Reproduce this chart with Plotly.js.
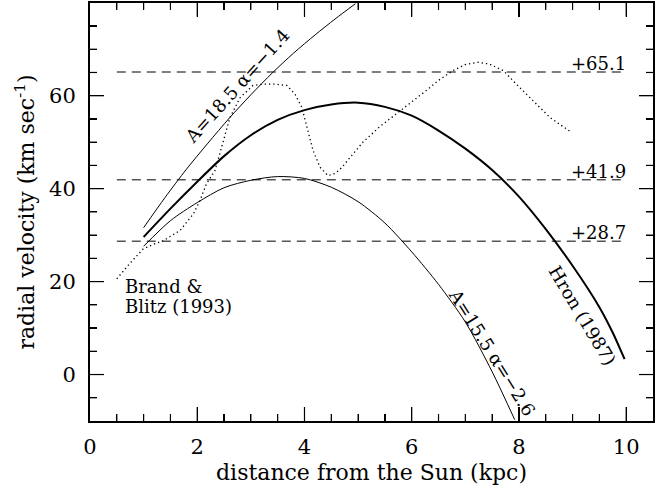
<!DOCTYPE html>
<html>
<head>
<meta charset="utf-8">
<script src="https://cdn.plot.ly/plotly-3.0.1.min.js"></script>
<style>html,body{margin:0;padding:0;background:#fff;}#chart{width:670px;height:488px;}</style>
</head>
<body>
<div id="chart"></div>
<script>
// Hron (1987) curve (thick)
const hronX = [1.0, 1.5, 2.0, 2.5, 3.0, 3.5, 4.0, 4.5, 5.0, 5.5, 6.0, 6.5, 7.0, 7.5, 8.0, 8.5, 9.0, 9.5, 9.75, 9.97];
const hronY = [29.6, 35.7, 41.5, 47.0, 51.5, 54.8, 56.9, 58.1, 58.5, 57.6, 55.7, 52.5, 48.6, 44.0, 38.3, 31.3, 23.4, 14.5, 9.0, 3.3];
// A=18.5 alpha=-1.4 model (upper thin)
const upperX = [1.0, 1.4, 1.8, 2.2, 2.6, 3.0, 3.4, 3.8, 4.2, 4.57, 4.95];
const upperY = [31.6, 38.1, 44.2, 49.8, 55.2, 60.2, 64.9, 69.2, 73.1, 76.5, 79.8];
// A=15.5 alpha=-2.6 model (lower thin)
const lowerX = [1.0, 1.5, 2.0, 2.5, 3.0, 3.5, 4.0, 4.5, 5.0, 5.5, 6.0, 6.5, 7.0, 7.5, 7.92];
const lowerY = [27.6, 33.1, 37.0, 40.2, 41.8, 42.6, 42.2, 40.3, 37.2, 32.6, 26.4, 19.4, 11.3, 0.6, -9.7];
// Brand & Blitz (1993) (dotted)
const bbX = [0.5, 0.75, 0.99, 1.2, 1.37, 1.68, 1.93, 2.05, 2.17, 2.33, 2.42, 2.61, 2.8, 3.04, 3.23, 3.45, 3.67, 3.82, 3.95, 4.07, 4.16, 4.29, 4.44, 4.58, 4.7, 4.85, 5.09, 5.4, 5.72, 6.0, 6.27, 6.5, 6.77, 7.0, 7.24, 7.45, 7.71, 7.95, 8.2, 8.58, 8.98];
const bbY = [20.6, 24.0, 27.0, 28.1, 28.8, 31.0, 34.6, 37.4, 41.0, 43.9, 47.5, 55.3, 59.6, 62.2, 62.5, 62.5, 62.2, 60.4, 57.5, 51.8, 48.2, 44.6, 42.8, 43.3, 44.6, 46.7, 50.0, 53.3, 56.1, 58.7, 61.1, 63.3, 65.4, 66.7, 67.2, 66.8, 65.4, 62.5, 59.7, 55.3, 52.1];
// Horizontal reference levels
const levels = [65.1, 41.9, 28.7];
const levelLabels = ['+65.1', '+41.9', '+28.7'];
const levelX = [0.5, 9.9];
// Axis ranges and tick steps
const xRange = [0, 10.5];
const yRange = [-10, 80];
const xMajorStep = 2, xMinorStep = 0.5;
const yMajorStep = 20, yMinorStep = 5;

const FONT = 'DejaVu Serif, serif';
const traces = [];
levels.forEach(v => {
  traces.push({x: levelX, y: levelX.map(() => v), mode: 'lines',
    line: {color: 'black', width: 1, dash: '9px,6px'}});
});
traces.push({x: bbX, y: bbY, mode: 'lines', line: {color: 'black', width: 1.3, dash: '1.3px,3px'}});
traces.push({x: upperX, y: upperY, mode: 'lines', line: {color: 'black', width: 1, shape: 'spline', smoothing: 0.8}});
traces.push({x: lowerX, y: lowerY, mode: 'lines', line: {color: 'black', width: 1, shape: 'spline', smoothing: 0.8}});
traces.push({x: hronX, y: hronY, mode: 'lines', line: {color: 'black', width: 2, shape: 'spline', smoothing: 0.8}});

const annFont = {family: FONT, size: 18, color: 'black'};
const annotations = [];
levels.forEach((v, i) => {
  annotations.push({x: 9.49, y: v, xref: 'x', yref: 'y', text: levelLabels[i], showarrow: false,
    font: annFont, yanchor: 'bottom', yshift: -4});
});
annotations.push({x: 0.62, y: 19.0, text: 'Brand &amp;', showarrow: false, xanchor: 'left', font: annFont});
annotations.push({x: 0.62, y: 14.6, text: 'Blitz (1993)', showarrow: false, xanchor: 'left', font: annFont});
annotations.push({x: 2.75, y: 62.2, text: 'A=18.5 α=−1.4', showarrow: false, textangle: -48, font: annFont});
annotations.push({x: 7.50, y: 4.7, text: 'A=15.5 α=−2.6', showarrow: false, textangle: 58, font: annFont});
annotations.push({x: 9.19, y: 12.8, text: 'Hron (1987)', showarrow: false, textangle: 59, font: annFont});

// Inward tick marks on all four sides, placed on the axis scale (major 14px, minor 7px)
const shapes = [];
const tickLine = {color: 'black', width: 1.2};
function addXTick(v, len) {
  shapes.push({type: 'line', xref: 'x', yref: 'y', ysizemode: 'pixel', yanchor: yRange[0],
    x0: v, x1: v, y0: 0, y1: len, line: tickLine, layer: 'above'});
  shapes.push({type: 'line', xref: 'x', yref: 'y', ysizemode: 'pixel', yanchor: yRange[1],
    x0: v, x1: v, y0: 0, y1: -len, line: tickLine, layer: 'above'});
}
function addYTick(v, len) {
  shapes.push({type: 'line', xref: 'x', yref: 'y', xsizemode: 'pixel', xanchor: xRange[0],
    y0: v, y1: v, x0: 0, x1: len, line: tickLine, layer: 'above'});
  shapes.push({type: 'line', xref: 'x', yref: 'y', xsizemode: 'pixel', xanchor: xRange[1],
    y0: v, y1: v, x0: 0, x1: -len, line: tickLine, layer: 'above'});
}
for (let i = 1; i * xMinorStep < xRange[1] - 1e-9; i++) {
  const v = i * xMinorStep;
  addXTick(v, Math.abs(v / xMajorStep - Math.round(v / xMajorStep)) < 1e-9 ? 14 : 7);
}
for (let i = Math.ceil((yRange[0] + 1e-9) / yMinorStep); i * yMinorStep < yRange[1] - 1e-9; i++) {
  const v = i * yMinorStep;
  addYTick(v, Math.abs(v / yMajorStep - Math.round(v / yMajorStep)) < 1e-9 ? 14 : 7);
}

const axisCommon = {
  showgrid: false, zeroline: false, showline: true, linecolor: 'black', linewidth: 2,
  mirror: 'allticks', ticks: 'inside', ticklen: 14, tickwidth: 1.2, tickcolor: 'black',
  layer: 'above traces',
  tickfont: {family: FONT, size: 21, color: 'black'}
};
const layout = {
  width: 670, height: 488,
  margin: {l: 90, r: 17, t: 3, b: 67},
  showlegend: false,
  font: {family: FONT, color: 'black'},
  xaxis: Object.assign({}, axisCommon, {
    range: xRange, tickmode: 'linear', tick0: 0, dtick: xMajorStep,
    ticklabelstandoff: 6,
    minor: {dtick: xMinorStep, ticks: 'inside', ticklen: 7, tickwidth: 1.2, tickcolor: 'black', showgrid: false},
    title: {text: 'distance from the Sun (kpc)', font: {family: FONT, size: 22, color: 'black'}, standoff: 6}
  }),
  yaxis: Object.assign({}, axisCommon, {
    range: [yRange[0], yRange[1] - 0.05], tickmode: 'linear', tick0: 0, dtick: yMajorStep,
    ticklabelstandoff: 8,
    minor: {dtick: yMinorStep, ticks: 'inside', ticklen: 7, tickwidth: 1.2, tickcolor: 'black', showgrid: false},
    title: {text: 'radial velocity (km sec<sup>-1</sup>)', font: {family: FONT, size: 22, color: 'black'}, standoff: 8}
  }),
  shapes: shapes,
  annotations: annotations
};
Plotly.newPlot('chart', traces, layout, {displayModeBar: false, staticPlot: true});
</script>
</body>
</html>
